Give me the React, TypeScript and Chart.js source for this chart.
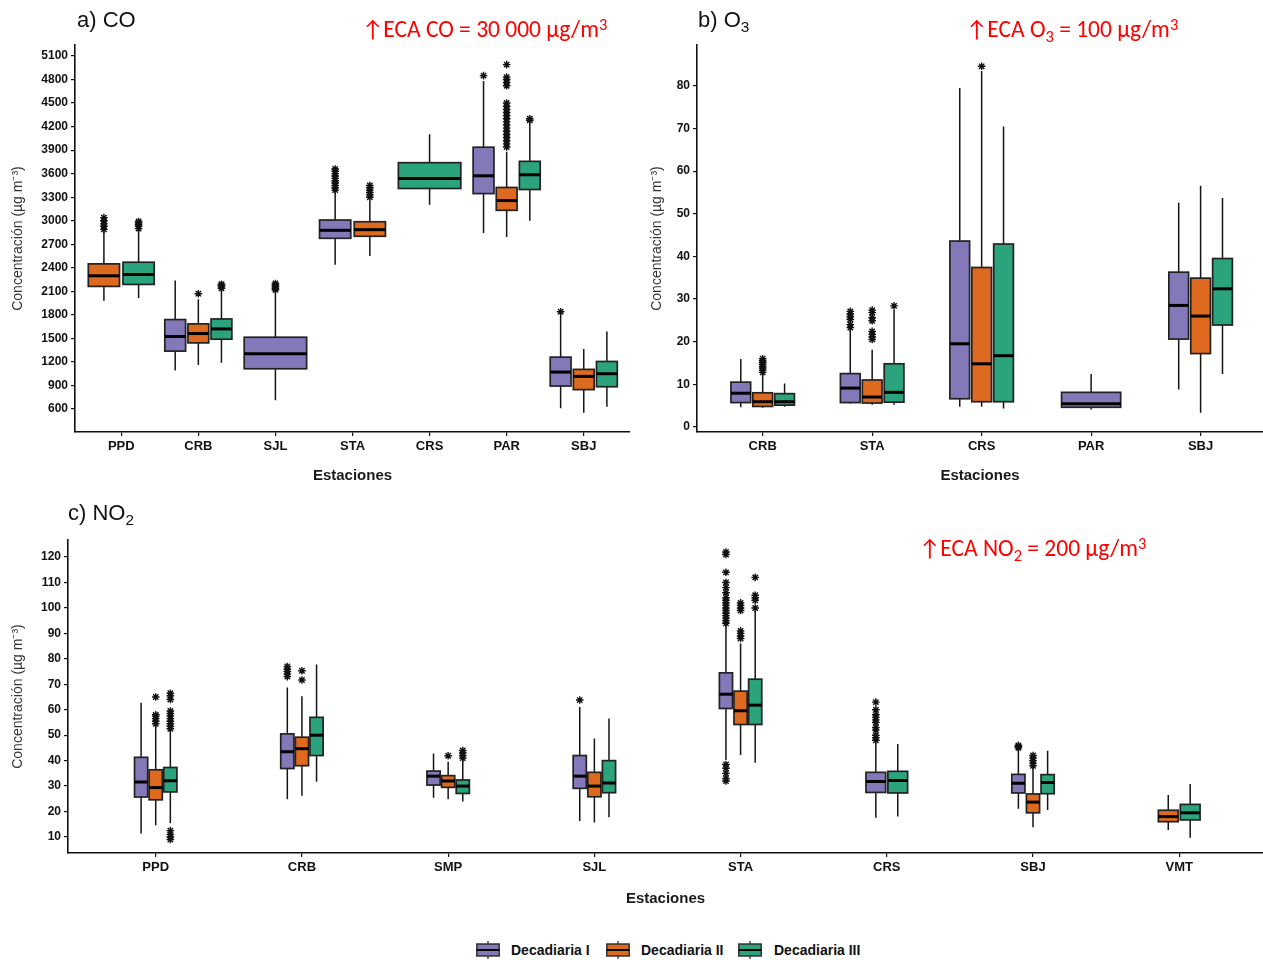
import React, { useEffect, useRef } from 'react';
import { Chart, registerables } from 'chart.js';

Chart.register(...registerables);

type Stat = [number, number, number, number, number] | null;

const DEC_COLORS = ['#8379B9', '#DD6A1F', '#2BA37D'];
const DEC_LABELS = ['Decadiaria I', 'Decadiaria II', 'Decadiaria III'];

// ---------- a) CO : [lower whisker, Q1, median, Q3, upper whisker] ----------
const CO_STATIONS = ['PPD', 'CRB', 'SJL', 'STA', 'CRS', 'PAR', 'SBJ'];
const CO_TICKS = [600, 900, 1200, 1500, 1800, 2100, 2400, 2700, 3000, 3300, 3600, 3900, 4200, 4500, 4800, 5100];
const CO_DEC1: Stat[] = [null, [1092, 1338, 1524, 1740, 2239], [711, 1113, 1304, 1515, 2100], [2438, 2776, 2878, 3009, 3360], null, [2844, 3346, 3573, 3937, 4780], [610, 893, 1071, 1261, 1800]];
const CO_DEC2: Stat[] = [[1981, 2163, 2298, 2450, 2860], [1160, 1443, 1562, 1685, 2000], null, [2552, 2802, 2886, 2987, 3250], null, [2793, 3133, 3257, 3424, 3880], [551, 847, 1016, 1105, 1366]];
const CO_DEC3: Stat[] = [[2015, 2188, 2315, 2471, 2880], [1190, 1490, 1621, 1748, 2120], null, null, [3205, 3411, 3539, 3740, 4103], [3000, 3398, 3586, 3757, 4245], [630, 884, 1050, 1206, 1588]];
const CO_OUT1: number[][] = [[], [], [2120, 2140, 2160, 2180, 2200], [3390, 3420, 3450, 3480, 3510, 3540, 3570, 3600, 3630, 3660], [], [4850], [1840]];
const CO_OUT2: number[][] = [[2890, 2930, 2960, 3000, 3040], [2070], [], [3300, 3330, 3360, 3390, 3420, 3450], [], [3940, 3980, 4020, 4060, 4100, 4140, 4180, 4220, 4260, 4300, 4340, 4380, 4420, 4460, 4500, 4720, 4760, 4800, 4830, 4990], []];
const CO_OUT3: number[][] = [[2900, 2930, 2950, 2970, 2990], [2140, 2160, 2180, 2190], [], [], [], [4280, 4300], []];

// ---------- b) O3 ----------
const O3_STATIONS = ['CRB', 'STA', 'CRS', 'PAR', 'SBJ'];
const O3_TICKS = [0, 10, 20, 30, 40, 50, 60, 70, 80];
const O3_DEC1: Stat[] = [[4.6, 5.7, 7.9, 10.5, 15.9], [5.5, 5.7, 9.1, 12.5, 22.8], [4.7, 6.6, 19.5, 43.6, 79.5], [4.1, 4.6, 5.4, 8.1, 12.4], [8.8, 20.6, 28.5, 36.3, 52.6]];
const O3_DEC2: Stat[] = [[4.5, 4.8, 5.9, 8.0, 12.4], [5.2, 5.6, 7.0, 11.0, 18.1], [4.7, 5.9, 14.8, 37.4, 83.5], null, [3.3, 17.2, 26.0, 34.9, 56.6]];
const O3_DEC3: Stat[] = [[4.7, 5.1, 5.9, 7.8, 10.2], [5.2, 5.8, 8.1, 14.8, 27.5], [4.3, 5.9, 16.7, 42.9, 70.5], null, [12.4, 23.9, 32.4, 39.5, 53.7]];
const O3_OUT1: number[][] = [[], [23.3, 24.0, 25.2, 25.9, 26.5, 27.1], [], [], []];
const O3_OUT2: number[][] = [[12.8, 13.3, 13.8, 14.2, 14.7, 15.1, 15.5, 16.0], [20.5, 21.1, 21.7, 22.4, 24.9, 25.6, 26.8, 27.4], [84.6], [], []];
const O3_OUT3: number[][] = [[], [28.4], [], [], []];

// ---------- c) NO2 ----------
const NO2_STATIONS = ['PPD', 'CRB', 'SMP', 'SJL', 'STA', 'CRS', 'SBJ', 'VMT'];
const NO2_TICKS = [10, 20, 30, 40, 50, 60, 70, 80, 90, 100, 110, 120];
const NO2_DEC1: Stat[] = [[11.4, 25.7, 31.6, 41.3, 62.7], [24.8, 36.9, 43.5, 50.5, 68.7], [25.4, 30.4, 33.9, 35.9, 42.8], [16.3, 29.1, 33.9, 42.0, 61.1], [40.2, 60.5, 66.1, 74.5, 93.5], [17.6, 27.5, 31.8, 35.4, 47.0], [21.1, 27.3, 31.1, 34.6, 44.5], null];
const NO2_DEC2: Stat[] = [[14.6, 24.6, 29.4, 36.4, 54.0], [26.2, 38.0, 44.7, 49.2, 65.3], [24.8, 29.5, 32.0, 34.1, 39.6], [15.7, 25.8, 30.0, 35.4, 48.7], [42.2, 54.2, 59.6, 67.3, 86.0], null, [13.8, 19.5, 23.7, 26.9, 37.6], [12.7, 16.0, 18.0, 20.5, 26.5]];
const NO2_DEC3: Stat[] = [[15.4, 27.7, 32.1, 37.3, 52.0], [31.7, 42.0, 50.0, 57.0, 77.8], [23.9, 27.1, 30.0, 32.4, 40.2], [17.7, 27.4, 31.2, 40.0, 56.6], [39.2, 54.2, 61.8, 72.0, 99.0], [18.0, 27.3, 32.2, 35.8, 46.5], [20.6, 27.0, 31.4, 34.5, 43.9], [9.7, 16.7, 19.5, 22.8, 30.8]];
const NO2_OUT1: number[][] = [[], [73, 74, 75, 76, 77], [], [63.8], [32, 33, 35, 37, 38.5, 94, 95, 96, 97, 98, 99, 100, 101, 102, 103, 104, 106, 108, 110, 114, 121, 122], [48, 49, 50, 52, 53, 55, 56, 57, 58, 60, 63], [45, 45.5, 46], []];
const NO2_OUT2: number[][] = [[54.5, 55.5, 56.5, 57.5, 58, 65], [71.7, 75.3], [41.9], [], [88, 89, 90, 91, 99, 100, 101, 102], [], [38, 39, 40, 41, 42], []];
const NO2_OUT3: number[][] = [[9, 10, 11, 12.5, 52.5, 53.5, 54.5, 55.5, 56.5, 57.5, 58.5, 59.5, 64, 65.5, 66.5], [], [41, 42, 43, 44], [], [100, 103, 104, 105, 112], [], [], []];

const Y_TITLE = 'Concentración (µg m⁻³)';
const X_TITLE = 'Estaciones';
const FONT = 'Arial, "Liberation Sans", Helvetica, sans-serif';

type PanelProps = {
  stations: string[];
  decs: Stat[][];
  outs: number[][][];
  yTicks: number[];
  yMin: number;
  yMax: number;
  xMax: number;
  groupWidth: number;
  left: number;
  top: number;
  width: number;
  height: number;
  padTop: number;
  padRight: number;
  yAxisW: number;
  xAxisH: number;
  yTitlePad: number;
  xTitlePad: number;
};

function BoxPanel(p: PanelProps) {
  const ref = useRef<HTMLCanvasElement>(null);
  useEffect(() => {
    const boxes: any[] = [];
    const outPts: { x: number; y: number }[][] = [[], [], []];
    p.stations.forEach((_, i) => {
      const present = [0, 1, 2].filter((d) => p.decs[d][i]);
      const slot = p.groupWidth / present.length;
      present.forEach((d, j) => {
        const cx = i + 1 - p.groupWidth / 2 + slot * (j + 0.5);
        const s = p.decs[d][i] as number[];
        boxes.push({ x: cx, w: slot * 0.9, lo: s[0], q1: s[1], med: s[2], q3: s[3], hi: s[4], color: DEC_COLORS[d] });
        p.outs[d][i].forEach((v) => outPts[d].push({ x: cx, y: v }));
      });
    });

    const boxPlugin = {
      id: 'boxplots',
      beforeDatasetsDraw(chart: any) {
        const { ctx } = chart;
        const x = chart.scales.x;
        const y = chart.scales.y;
        ctx.save();
        boxes.forEach((b) => {
          const cx = x.getPixelForValue(b.x);
          const l = x.getPixelForValue(b.x - b.w / 2);
          const r = x.getPixelForValue(b.x + b.w / 2);
          const pLo = y.getPixelForValue(b.lo);
          const pQ1 = y.getPixelForValue(b.q1);
          const pMed = y.getPixelForValue(b.med);
          const pQ3 = y.getPixelForValue(b.q3);
          const pHi = y.getPixelForValue(b.hi);
          ctx.strokeStyle = '#151515';
          ctx.lineWidth = 1.5;
          ctx.beginPath();
          ctx.moveTo(cx, pLo);
          ctx.lineTo(cx, pQ1);
          ctx.moveTo(cx, pQ3);
          ctx.lineTo(cx, pHi);
          ctx.stroke();
          ctx.fillStyle = b.color;
          ctx.fillRect(l, pQ3, r - l, pQ1 - pQ3);
          ctx.strokeStyle = '#222';
          ctx.lineWidth = 1.7;
          ctx.strokeRect(l, pQ3, r - l, pQ1 - pQ3);
          ctx.strokeStyle = '#000';
          ctx.lineWidth = 3;
          ctx.beginPath();
          ctx.moveTo(l, pMed);
          ctx.lineTo(r, pMed);
          ctx.stroke();
        });
        ctx.restore();
      },
    };

    const chart = new Chart(ref.current as HTMLCanvasElement, {
      type: 'scatter',
      data: {
        datasets: outPts.map((pts, d) => ({
          label: DEC_LABELS[d],
          data: pts,
          pointStyle: 'star',
          radius: 3.8,
          borderColor: '#111',
          backgroundColor: '#111',
          borderWidth: 1.4,
        })),
      },
      options: {
        animation: false,
        responsive: false,
        events: [],
        layout: { autoPadding: false, padding: { top: p.padTop, right: p.padRight, left: 0, bottom: 0 } },
        plugins: { legend: { display: false }, tooltip: { enabled: false } },
        scales: {
          x: {
            type: 'linear',
            min: 0.4,
            max: p.xMax,
            afterBuildTicks: (sc: any) => {
              sc.ticks = p.stations.map((_, i) => ({ value: i + 1 }));
            },
            afterFit: (sc: any) => {
              sc.height = p.xAxisH;
              sc.paddingLeft = 0;
              sc.paddingRight = 0;
            },
            ticks: {
              autoSkip: false,
              maxRotation: 0,
              padding: 3,
              color: '#111',
              font: { family: FONT, size: 13, weight: 'bold' },
              callback: (v: any) => p.stations[Math.round(Number(v)) - 1] ?? '',
            },
            grid: { display: true, drawOnChartArea: false, drawTicks: true, tickLength: 4, color: '#111', lineWidth: 1.2 },
            border: { display: true, color: '#111', width: 1.6 },
            title: {
              display: true,
              text: X_TITLE,
              color: '#1a1a1a',
              font: { family: FONT, size: 15, weight: 'bold' },
              padding: { top: 4, bottom: p.xTitlePad },
            },
          },
          y: {
            type: 'linear',
            min: p.yMin,
            max: p.yMax,
            afterBuildTicks: (sc: any) => {
              sc.ticks = p.yTicks.map((v) => ({ value: v }));
            },
            afterFit: (sc: any) => {
              sc.width = p.yAxisW;
              sc.paddingTop = 0;
              sc.paddingBottom = 0;
            },
            ticks: {
              autoSkip: false,
              padding: 3,
              color: '#111',
              font: { family: FONT, size: 12, weight: 'bold' },
              callback: (v: any) => String(v),
            },
            grid: { display: true, drawOnChartArea: false, drawTicks: true, tickLength: 4, color: '#111', lineWidth: 1.2 },
            border: { display: true, color: '#111', width: 1.6 },
            title: {
              display: true,
              text: Y_TITLE,
              color: '#333',
              font: { family: FONT, size: 14, weight: 'normal' },
              padding: { top: p.yTitlePad, bottom: p.yTitlePad },
            },
          },
        },
      } as any,
      plugins: [boxPlugin as any],
    });
    return () => chart.destroy();
  }, []);
  return (
    <canvas
      ref={ref}
      width={p.width}
      height={p.height}
      style={{ position: 'absolute', left: p.left, top: p.top, width: p.width, height: p.height }}
    />
  );
}

const titleStyle: React.CSSProperties = {
  position: 'absolute',
  fontFamily: FONT,
  fontSize: 22,
  lineHeight: '24px',
  color: '#111',
  whiteSpace: 'nowrap',
};
const redStyle: React.CSSProperties = {
  position: 'absolute',
  fontFamily: 'Carlito, Lato, "Noto Sans", sans-serif',
  fontSize: 23.5,
  lineHeight: '24px',
  color: '#FF0000',
  whiteSpace: 'nowrap',
};
const subStyle: React.CSSProperties = { fontSize: '0.7em', position: 'relative', top: '0.3em' };
const supStyle: React.CSSProperties = { fontSize: '0.7em', position: 'relative', top: '-0.45em' };

function LegendGlyph({ color }: { color: string }) {
  return (
    <svg width={24} height={18} style={{ display: 'block' }}>
      <line x1={12} y1={0} x2={12} y2={18} stroke="#222" strokeWidth={1.2} />
      <rect x={0.8} y={3} width={22.4} height={12} fill={color} stroke="#2a2a2a" strokeWidth={1.4} />
      <line x1={0.8} y1={9} x2={23.2} y2={9} stroke="#000" strokeWidth={2} />
    </svg>
  );
}

export default function App() {
  const legendX = [476, 606, 738];
  const legendTextX = [511, 641, 774];
  return (
    <div style={{ position: 'fixed', left: 0, top: 0, width: 1263, height: 960, background: '#fff', overflow: 'hidden' }}>
      <BoxPanel
        stations={CO_STATIONS}
        decs={[CO_DEC1, CO_DEC2, CO_DEC3]}
        outs={[CO_OUT1, CO_OUT2, CO_OUT3]}
        yTicks={CO_TICKS}
        yMin={307}
        yMax={5240}
        xMax={7.6}
        groupWidth={0.9}
        left={0}
        top={0}
        width={640}
        height={490}
        padTop={45}
        padRight={10}
        yAxisW={75}
        xAxisH={58}
        yTitlePad={10}
        xTitlePad={5}
      />
      <BoxPanel
        stations={O3_STATIONS}
        decs={[O3_DEC1, O3_DEC2, O3_DEC3]}
        outs={[O3_OUT1, O3_OUT2, O3_OUT3]}
        yTicks={O3_TICKS}
        yMin={-1.2}
        yMax={89.6}
        xMax={5.57}
        groupWidth={0.6}
        left={640}
        top={0}
        width={623}
        height={490}
        padTop={45}
        padRight={0}
        yAxisW={57}
        xAxisH={58}
        yTitlePad={9}
        xTitlePad={5}
      />
      <BoxPanel
        stations={NO2_STATIONS}
        decs={[NO2_DEC1, NO2_DEC2, NO2_DEC3]}
        outs={[NO2_OUT1, NO2_OUT2, NO2_OUT3]}
        yTicks={NO2_TICKS}
        yMin={3.7}
        yMax={126.7}
        xMax={8.573}
        groupWidth={0.3}
        left={0}
        top={490}
        width={1263}
        height={430}
        padTop={50}
        padRight={0}
        yAxisW={68}
        xAxisH={67}
        yTitlePad={10}
        xTitlePad={12}
      />

      <div style={{ ...titleStyle, left: 77, top: 8 }}>a) CO</div>
      <div style={{ ...titleStyle, left: 698, top: 8 }}>
        b) O<span style={subStyle}>3</span>
      </div>
      <div style={{ ...titleStyle, left: 68, top: 501 }}>
        c) NO<span style={subStyle}>2</span>
      </div>

      <div style={{ ...redStyle, left: 362, top: 17 }}>
        ↑ECA CO = 30 000 µg/m<span style={supStyle}>3</span>
      </div>
      <div style={{ ...redStyle, left: 966, top: 17 }}>
        ↑ECA O<span style={subStyle}>3</span> = 100 µg/m<span style={supStyle}>3</span>
      </div>
      <div style={{ ...redStyle, left: 919, top: 536 }}>
        ↑ECA NO<span style={subStyle}>2</span> = 200 µg/m<span style={supStyle}>3</span>
      </div>

      {DEC_LABELS.map((lab, d) => (
        <React.Fragment key={lab}>
          <div style={{ position: 'absolute', left: legendX[d], top: 941 }}>
            <LegendGlyph color={DEC_COLORS[d]} />
          </div>
          <div
            style={{
              position: 'absolute',
              left: legendTextX[d],
              top: 941,
              lineHeight: '18px',
              fontFamily: FONT,
              fontWeight: 'bold',
              fontSize: 14,
              color: '#111',
              whiteSpace: 'nowrap',
            }}
          >
            {lab}
          </div>
        </React.Fragment>
      ))}
    </div>
  );
}
